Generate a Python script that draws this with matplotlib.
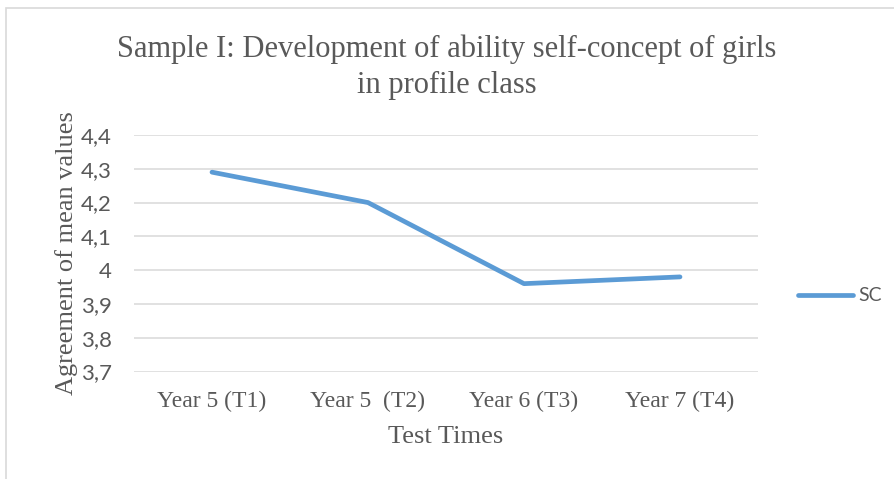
import matplotlib
matplotlib.use("Agg")
import matplotlib.pyplot as plt
from matplotlib.patches import Rectangle

# ── Data ──────────────────────────────────────────────────────────────────────
test_times = ["Year 5 (T1)", "Year 5  (T2)", "Year 6 (T3)", "Year 7 (T4)"]
sc_values = [4.29, 4.20, 3.96, 3.98]
y_ticks = [3.7, 3.8, 3.9, 4.0, 4.1, 4.2, 4.3, 4.4]
y_tick_labels = ["3,7", "3,8", "3,9", "4", "4,1", "4,2", "4,3", "4,4"]

TEXT = "#595959"
LINE = "#5B9BD5"
GRID = "#D9D9D9"
SERIF = ["Liberation Serif", "DejaVu Serif"]
SANS = ["Lato", "DejaVu Sans"]

W, H = 895, 479
fig = plt.figure(figsize=(W / 100, H / 100), dpi=100)

# chart-area border (cut off at right and bottom)
fig.patches.append(Rectangle((6 / W, -0.05), 1.0, 1.05 - 8 / H, transform=fig.transFigure,
                             fill=False, edgecolor=GRID, lw=1.2))

ax = fig.add_axes([134 / W, 1 - 371.5 / H, (758 - 134) / W, (371.5 - 135) / H])

x = range(len(test_times))
ax.plot(x, sc_values, color=LINE, lw=3.4, solid_capstyle="round",
        solid_joinstyle="round", label="SC")

ax.set_xlim(-0.5, len(test_times) - 0.5)
ax.set_ylim(3.7, 4.4)
ax.set_yticks(y_ticks)
ax.set_yticklabels(y_tick_labels, family=SANS, fontsize=16, color=TEXT)
ax.set_xticks(list(x))
ax.set_xticklabels(test_times, family=SERIF, fontsize=17, color=TEXT)
ax.tick_params(length=0)
ax.tick_params(axis="x", pad=14)
ax.tick_params(axis="y", pad=16)

ax.grid(axis="y", color=GRID, lw=1.1)
ax.set_axisbelow(True)
for s in ax.spines.values():
    s.set_visible(False)

ax.set_xlabel("Test Times", family=SERIF, fontsize=19, color=TEXT, labelpad=10)
ax.set_ylabel("Agreement of mean values", family=SERIF, fontsize=19, color=TEXT,
              labelpad=2)

fig.text(447 / W, 1 - 67 / H,
         "Sample I: Development of ability self-concept of girls\nin profile class",
         ha="center", va="center", family=SERIF, fontsize=22, color=TEXT,
         linespacing=1.3)

leg = ax.legend(loc="center left", bbox_to_anchor=(1.036, 0.32), frameon=False,
                handlelength=2.85, handletextpad=0.25,
                prop={"family": SANS, "size": 14})
for t in leg.get_texts():
    t.set_color(TEXT)

fig.savefig("out.png", dpi=100)
